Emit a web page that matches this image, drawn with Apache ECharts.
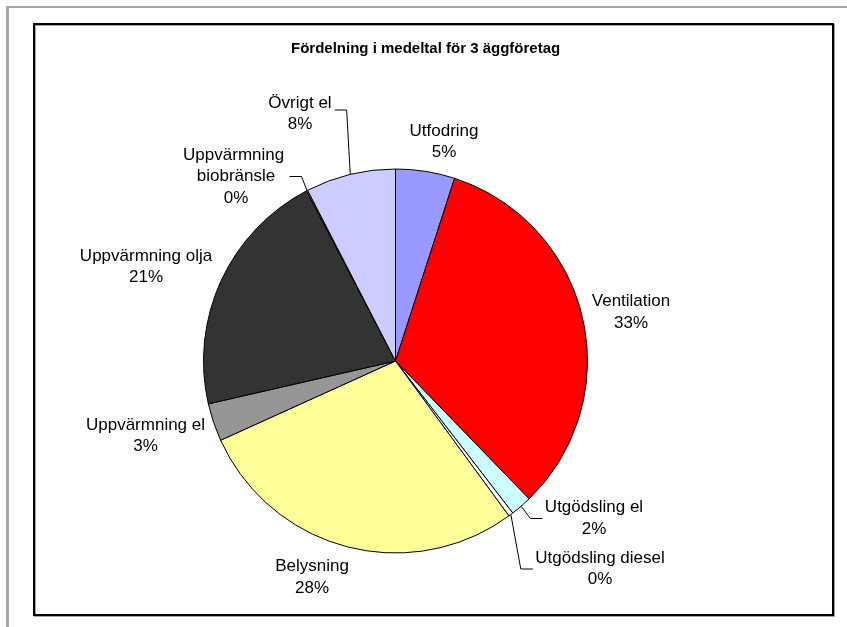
<!DOCTYPE html>
<html>
<head>
<meta charset="utf-8">
<title>Fördelning i medeltal för 3 äggföretag</title>
<script src="https://cdn.jsdelivr.net/npm/echarts@6/dist/echarts.min.js"></script>
<style>
  html, body { margin: 0; padding: 0; background: #fff; }
  #chart { width: 847px; height: 627px; }
</style>
</head>
<body>
<div id="chart"></div>
<script>
// slices, clockwise from 12 o'clock
const categories = ['Utfodring', 'Ventilation', 'Utgödsling el', 'Utgödsling diesel', 'Belysning',
                    'Uppvärmning el', 'Uppvärmning olja', 'Uppvärmning biobränsle', 'Övrigt el'];
const shares = [5.0, 32.9, 1.8, 0.4, 28.4, 3.2, 21.0, 0.1, 7.6];
const sliceColors = ['#9999FF', '#FF0000', '#CCFFFF', '#FFFFFF', '#FFFF99',
                     '#969696', '#333333', '#FF8080', '#CCCCFF'];

// where each label block is centred, and which ones get a leader line
const labelSpots = [[444, 142], [631, 312.5], [594, 518.5], [600, 569], [312, 577.5],
                    [145.5, 436], [146, 267], [236, 176.5], [300, 114]];
const withLeader = [2, 3, 7, 8];
const wrapped = [7];

const font = "'Liberation Sans', Arial, sans-serif";

let pieData = categories.map((name, i) => ({
    name: name,
    value: shares[i],
    itemStyle: { color: sliceColors[i] },
    labelLine: { show: withLeader.includes(i) },
    label: wrapped.includes(i) ? { width: 125, overflow: 'break' } : {}
}));

let myChart = echarts.init(document.getElementById('chart'));
let option = {
    animation: false,
    backgroundColor: '#fff',
    title: {
        text: 'Fördelning i medeltal för 3 äggföretag',
        left: 291,
        top: 40,
        padding: 0,
        textStyle: { fontFamily: font, fontSize: 15, fontWeight: 'bold', color: '#000', lineHeight: 18 }
    },
    graphic: [
        // grey edge of the sheet (top and left)
        { type: 'line', shape: { x1: 6, y1: 7, x2: 847, y2: 7 }, style: { stroke: '#A8A8A8', lineWidth: 2 }, silent: true },
        { type: 'line', shape: { x1: 7.5, y1: 6, x2: 7.5, y2: 627 }, style: { stroke: '#A8A8A8', lineWidth: 3 }, silent: true },
        // chart frame
        { type: 'rect', shape: { x: 34, y: 24, width: 799, height: 591 },
          style: { fill: null, stroke: '#000', lineWidth: 2, shadowColor: 'rgba(0,0,0,0.35)', shadowOffsetX: 1, shadowOffsetY: 1, shadowBlur: 0 },
          silent: true, z: -1 }
    ],
    series: [{
        type: 'pie',
        center: [395.5, 361],
        radius: 192,
        startAngle: 90,
        clockwise: true,
        avoidLabelOverlap: false,
        emphasis: { disabled: true },
        itemStyle: { borderColor: '#000', borderWidth: 1 },
        label: {
            show: true,
            position: 'outside',
            fontFamily: font,
            fontSize: 17,
            lineHeight: 21.5,
            color: '#000',
            align: 'center',
            formatter: (p) => p.name + '\n' + Math.round(p.percent) + '%'
        },
        labelLine: { lineStyle: { color: '#000', width: 1 }, length: 10, length2: 10 },
        labelLayout: (params) => {
            let i = params.dataIndex;
            let spot = labelSpots[i];
            let out = { x: spot[0], y: spot[1], align: 'center', verticalAlign: 'middle' };
            if (withLeader.includes(i) && params.labelLinePoints) {
                let start = params.labelLinePoints[0];
                let w = i === 7 ? 101 : params.labelRect.width;
                let onRight = spot[0] > start[0];
                let endX = onRight ? spot[0] - w / 2 - 2.5 : spot[0] + w / 2 + 3;
                let elbowX = onRight ? endX - 12 : endX + 12;
                let lineY = i === 8 ? spot[1] - 4 : spot[1];
                out.labelLinePoints = [start, [elbowX, lineY], [endX, lineY]];
            }
            return out;
        },
        data: pieData
    }]
};
myChart.setOption(option);
</script>
</body>
</html>
